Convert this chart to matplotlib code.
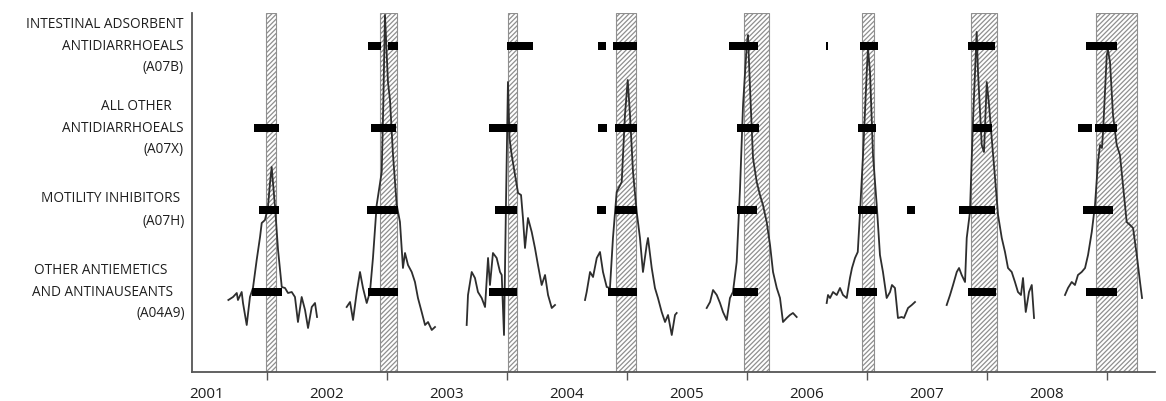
import matplotlib
matplotlib.use("Agg")
import matplotlib.pyplot as plt
from matplotlib.transforms import blended_transform_factory

# seasonal sales curves (decimal year, index value), one list per season
curve_years = [
    [2001.678, 2001.717, 2001.748, 2001.758, 2001.789, 2001.8, 2001.831, 2001.858, 2001.883, 2001.914,
     2001.942, 2001.956, 2001.983, 2002.008, 2002.025, 2002.039, 2002.05, 2002.067, 2002.092, 2002.123,
     2002.15, 2002.175, 2002.206, 2002.233, 2002.258, 2002.289, 2002.317, 2002.342, 2002.373, 2002.4, 2002.417],
    [2002.664, 2002.692, 2002.717, 2002.748, 2002.775, 2002.8, 2002.831, 2002.858, 2002.883, 2002.914,
     2002.956, 2002.969, 2002.983, 2003.008, 2003.025, 2003.05, 2003.081, 2003.108, 2003.133, 2003.15,
     2003.175, 2003.206, 2003.233, 2003.258, 2003.289, 2003.317, 2003.342, 2003.373, 2003.4],
    [2003.664, 2003.675, 2003.706, 2003.733, 2003.758, 2003.789, 2003.817, 2003.842, 2003.858, 2003.883,
     2003.914, 2003.942, 2003.956, 2003.975, 2003.992, 2004.008, 2004.021, 2004.039, 2004.067, 2004.092,
     2004.117, 2004.133, 2004.15, 2004.175, 2004.206, 2004.233, 2004.258, 2004.289, 2004.317, 2004.342,
     2004.373, 2004.4],
    [2004.65, 2004.664, 2004.692, 2004.717, 2004.748, 2004.775, 2004.8, 2004.831, 2004.858, 2004.883,
     2004.914, 2004.956, 2004.983, 2005.006, 2005.025, 2005.05, 2005.081, 2005.108, 2005.133, 2005.164,
     2005.175, 2005.206, 2005.233, 2005.258, 2005.289, 2005.317, 2005.342, 2005.373, 2005.4, 2005.414],
    [2005.664, 2005.692, 2005.717, 2005.748, 2005.775, 2005.8, 2005.831, 2005.858, 2005.883, 2005.914,
     2005.942, 2005.967, 2005.998, 2006.008, 2006.025, 2006.05, 2006.081, 2006.108, 2006.133, 2006.164,
     2006.192, 2006.217, 2006.248, 2006.275, 2006.3, 2006.331, 2006.358, 2006.383, 2006.414],
    [2006.664, 2006.675, 2006.692, 2006.717, 2006.748, 2006.775, 2006.8, 2006.831, 2006.858, 2006.875,
     2006.9, 2006.923, 2006.942, 2006.967, 2006.998, 2007.008, 2007.025, 2007.05, 2007.081, 2007.108,
     2007.133, 2007.164, 2007.192, 2007.208, 2007.233, 2007.258, 2007.289, 2007.308, 2007.342, 2007.373, 2007.4],
    [2007.664, 2007.692, 2007.717, 2007.748, 2007.767, 2007.789, 2007.817, 2007.831, 2007.858, 2007.883,
     2007.914, 2007.925, 2007.956, 2007.975, 2007.998, 2008.017, 2008.039, 2008.067, 2008.092, 2008.123,
     2008.15, 2008.175, 2008.206, 2008.233, 2008.258, 2008.283, 2008.3, 2008.323, 2008.35, 2008.373, 2008.392],
    [2008.65, 2008.675, 2008.706, 2008.733, 2008.758, 2008.789, 2008.817, 2008.842, 2008.873, 2008.9,
     2008.925, 2008.942, 2008.958, 2008.967, 2008.998, 2009.008, 2009.025, 2009.05, 2009.081, 2009.108,
     2009.133, 2009.164, 2009.192, 2009.217, 2009.248, 2009.275, 2009.292],
]
curve_values = [
    [72, 75, 79, 72, 80, 69, 47, 75, 84, 112, 135, 149, 152, 165, 189, 205, 189, 165, 122, 85,
     84, 79, 80, 75, 50, 75, 62, 44, 65, 69, 55],
    [65, 70, 52, 80, 100, 84, 69, 80, 114, 167, 200, 267, 357, 290, 272, 217, 167, 150, 104, 119,
     107, 100, 90, 74, 60, 47, 50, 42, 45],
    [47, 77, 100, 94, 80, 74, 65, 114, 87, 119, 114, 100, 97, 37, 172, 290, 234, 217, 197, 179,
     177, 154, 124, 154, 140, 124, 107, 87, 97, 77, 64, 67],
    [72, 80, 100, 95, 114, 120, 100, 85, 84, 134, 180, 190, 257, 292, 257, 200, 160, 134, 100, 127,
     134, 104, 84, 74, 60, 50, 57, 37, 57, 59],
    [64, 70, 82, 77, 69, 60, 52, 74, 80, 110, 184, 267, 327, 337, 284, 214, 190, 177, 167, 150,
     127, 100, 84, 74, 50, 54, 57, 59, 55],
    [69, 77, 74, 80, 77, 84, 77, 74, 94, 104, 114, 120, 160, 217, 300, 324, 300, 217, 167, 117,
     100, 74, 80, 87, 84, 54, 55, 54, 64, 67, 70],
    [67, 77, 87, 100, 104, 97, 90, 134, 160, 250, 340, 300, 227, 220, 290, 267, 234, 194, 157, 134,
     120, 104, 100, 90, 80, 77, 94, 60, 80, 87, 54],
    [77, 84, 90, 87, 97, 100, 104, 117, 140, 167, 210, 227, 224, 240, 317, 322, 310, 257, 227, 217,
     187, 150, 147, 144, 117, 90, 74],
]

# epidemic periods (hatched)
band_start = [2001.992, 2002.942, 2004.008, 2004.908, 2005.975, 2006.958, 2007.867, 2008.908]
band_end = [2002.075, 2003.083, 2004.083, 2005.075, 2006.183, 2007.058, 2008.083, 2009.25]

# signal periods per drug group: (start, end)
rows = ["A07B", "A07X", "A07H", "A04A9"]
signals = {
    "A07B": [(2002.842, 2002.946), (2003.008, 2003.092), (2004.0, 2004.217), (2004.758, 2004.829),
             (2004.883, 2005.083), (2005.85, 2006.092), (2006.662, 2006.672), (2006.942, 2007.092),
             (2007.842, 2008.067), (2008.825, 2009.083)],
    "A07X": [(2001.892, 2002.1), (2002.867, 2003.075), (2003.85, 2004.083), (2004.758, 2004.833),
             (2004.9, 2005.083), (2005.917, 2006.1), (2006.925, 2007.075), (2007.883, 2008.042),
             (2008.758, 2008.875), (2008.9, 2009.083)],
    "A07H": [(2001.933, 2002.1), (2002.833, 2003.092), (2003.9, 2004.083), (2004.75, 2004.825),
             (2004.9, 2005.083), (2005.917, 2006.083), (2006.925, 2007.083), (2007.333, 2007.4),
             (2007.767, 2008.067), (2008.8, 2009.05)],
    "A04A9": [(2001.875, 2002.125), (2002.842, 2003.092), (2003.85, 2004.083), (2004.842, 2005.083),
              (2005.883, 2006.092), (2006.908, 2007.083), (2007.842, 2008.075), (2008.825, 2009.083)],
}
row_level = {"A07B": 326, "A07X": 244, "A07H": 162, "A04A9": 80}
row_labels = {
    "A07B": ["INTESTINAL ADSORBENT", "ANTIDIARRHOEALS", "(A07B)"],
    "A07X": ["ALL OTHER", "ANTIDIARRHOEALS", "(A07X)"],
    "A07H": ["MOTILITY INHIBITORS", "(A07H)"],
    "A04A9": ["OTHER ANTIEMETICS", "AND ANTINAUSEANTS", "(A04A9)"],
}
label_right = {
    "A07B": [184, 184, 184],
    "A07X": [172, 184, 184],
    "A07H": [180, 185],
    "A04A9": [167, 173, 185],
}
years = list(range(2001, 2009))

plt.rcParams['font.family'] = ['Open Sans', 'DejaVu Sans']
plt.rcParams['hatch.linewidth'] = 0.9
fig = plt.figure(figsize=(11.66, 4.01), dpi=100)
ax = fig.add_axes([192 / 1166, 29 / 401, 963 / 1166, 359 / 401])

for s, e in zip(band_start, band_end):
    ax.axvspan(s, e, facecolor='white', edgecolor='#8f8f8f', hatch='///////', lw=0.8, zorder=1)

for xs, ys in zip(curve_years, curve_values):
    ax.plot(xs, ys, color='#2e2e2e', lw=1.3, zorder=3)

for r in rows:
    for s, e in signals[r]:
        ax.barh(row_level[r], e - s, left=s, height=8, color='black', zorder=4)

trans = blended_transform_factory(fig.transFigure, ax.transData)
for r in rows:
    lines = row_labels[r]
    n = len(lines)
    for i, (txt, xr) in enumerate(zip(lines, label_right[r])):
        y = row_level[r] + (n - 1) / 2 * 22 - i * 22
        ax.text(xr / 1166, y, txt, transform=trans, ha='right', va='center',
                fontsize=9.8, color='#1e1e1e')

ax.set_xlim(2001.375, 2009.4)
ax.set_ylim(0, 359)
ax.set_yticks([])
ax.set_xticks(range(2002, 2010))
ax.set_xticklabels([])
ax.set_xticks([y + 0.5 for y in years], minor=True)
ax.set_xticklabels([str(y) for y in years], minor=True, fontsize=11, color='#1e1e1e')
ax.tick_params(axis='x', which='major', length=6, width=1, color='#555555', direction='out')
ax.tick_params(axis='x', which='minor', length=0, pad=11)
for side in ['top', 'right']:
    ax.spines[side].set_visible(False)
for side in ['left', 'bottom']:
    ax.spines[side].set_color('#555555')
    ax.spines[side].set_linewidth(1.3)

fig.savefig("out.png", dpi=100)
